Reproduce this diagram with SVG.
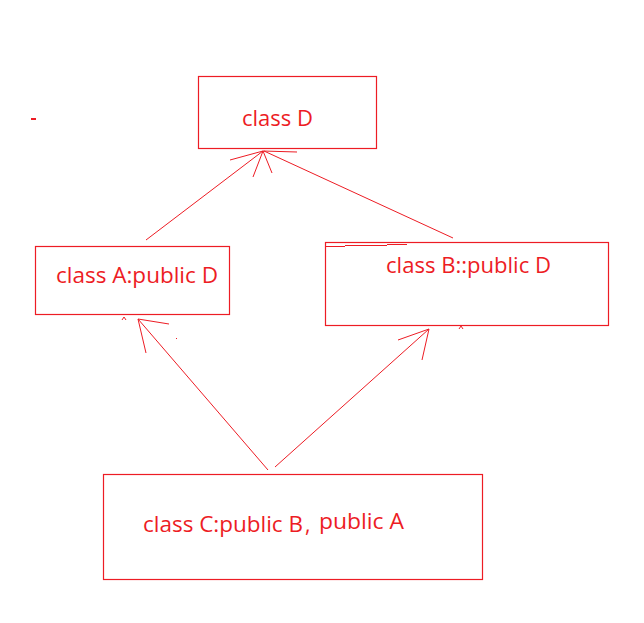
<svg xmlns="http://www.w3.org/2000/svg" width="644" height="623" viewBox="0 0 644 623">
<style>
.box{fill:none;stroke:#ED1C24;stroke-width:1.2}
.ln{fill:none;stroke:#ED1C24;stroke-width:1}
.lbl{font-family:"Open Sans","Noto Sans",sans-serif;font-size:21px;fill:#ED1C24}
</style>
<rect width="644" height="623" fill="#FFFFFF"/>
<rect x="31" y="118" width="5" height="2" fill="#ED1C24"/>
<g id="nodeD">
<rect class="box" x="198.5" y="76.5" width="178" height="72"/>
<text class="lbl" x="242" y="126" textLength="71" lengthAdjust="spacingAndGlyphs">class D</text>
</g>
<g id="nodeA">
<rect class="box" x="35.5" y="246.5" width="194" height="68"/>
<text class="lbl" x="56" y="283" textLength="162" lengthAdjust="spacingAndGlyphs">class A:public D</text>
</g>
<g id="nodeB">
<rect class="box" x="325.5" y="242.5" width="283" height="83"/>
<path class="ln" d="M325.5 243 V254 M325 246.5 H345 M345 245.5 H387 M387 244.5 H407"/>
<text class="lbl" x="386" y="273" textLength="165" lengthAdjust="spacingAndGlyphs">class B::public D</text>
</g>
<g id="nodeC">
<rect class="box" x="103.5" y="474.5" width="379" height="105"/>
<text class="lbl" x="143" y="532" textLength="160" lengthAdjust="spacingAndGlyphs">class C:public B</text>
<text class="lbl" x="305" y="532">,</text>
<text class="lbl" x="319" y="529" textLength="85" lengthAdjust="spacingAndGlyphs">public A</text>
</g>
<g id="connectors">
<path class="ln" d="M146 240 L263 151"/>
<path class="ln" d="M453 238 L264 151"/>
<path class="ln" d="M263 151 L297 152 M263 151 L230 160 M263 151 L253 177 M263 151 L272 173"/>
<path class="ln" d="M268 470 L138 319"/>
<path class="ln" d="M138 319 L169 324 M138 319 L146 353"/>
<path class="ln" d="M122 320 L124 317 L126 320"/>
<rect x="176" y="338" width="1" height="1" fill="#ED1C24"/>
<path class="ln" d="M275 467 L429 329"/>
<path class="ln" d="M429 329 L398 340 M429 329 L422 360"/>
<path class="ln" d="M459 329 L461 326 L463 329"/>
</g>
</svg>
